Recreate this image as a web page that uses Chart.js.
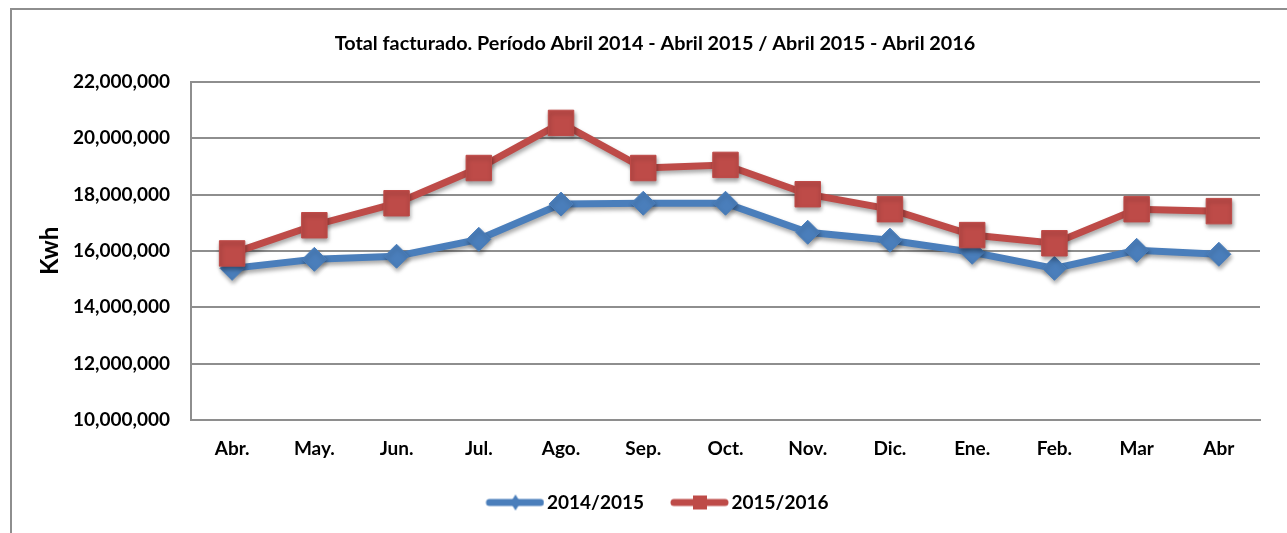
<!DOCTYPE html>
<html>
<head>
<meta charset="utf-8">
<script src="https://cdn.jsdelivr.net/npm/chart.js@4.4.0/dist/chart.umd.min.js"></script>
<style>
  body { margin: 0; background: #fff; overflow: hidden; }
  #frame { position: absolute; left: 10px; top: 8px; width: 1400px; height: 700px;
           border-top: 2px solid #8e8e8e; border-left: 2px solid #8e8e8e; }
  #chart { position: absolute; left: 0; top: 0; }
</style>
</head>
<body>
<div id="frame"></div>
<canvas id="chart" width="1287" height="533"></canvas>
<script>
var months = ["Abr.", "May.", "Jun.", "Jul.", "Ago.", "Sep.", "Oct.", "Nov.", "Dic.", "Ene.", "Feb.", "Mar", "Abr"];
var serie1415 = [15380000, 15700000, 15810000, 16410000, 17660000, 17690000, 17690000, 16660000, 16380000, 15950000, 15380000, 16020000, 15880000];
var serie1516 = [15910000, 16910000, 17690000, 18940000, 20540000, 18940000, 19050000, 18010000, 17480000, 16560000, 16270000, 17480000, 17410000];
var yMin = 10000000, yMax = 22000000, yStep = 2000000;

var blue = "#4A7EBB";
var red = "#BE4B48";
var grid = "#8e8e8e";
var font = "Lato";

// small line+marker swatch for the legend
function legendIcon(color, shape) {
  const c = document.createElement("canvas");
  c.width = 70; c.height = 18;
  const ctx = c.getContext("2d");
  ctx.strokeStyle = color;
  ctx.lineWidth = 7;
  ctx.lineCap = "round";
  ctx.beginPath();
  ctx.moveTo(15, 9); ctx.lineTo(66, 9);
  ctx.stroke();
  ctx.fillStyle = color;
  ctx.beginPath();
  if (shape == "rect") {
    ctx.rect(34, 2, 14, 14);
  } else {
    ctx.moveTo(41, 1); ctx.lineTo(46, 9); ctx.lineTo(41, 17); ctx.lineTo(36, 9); ctx.closePath();
  }
  ctx.fill();
  return c;
}

const shadow = {
  id: "shadow",
  beforeDatasetsDraw(chart) {
    const ctx = chart.ctx;
    ctx.save();
    ctx.shadowColor = "rgba(0,0,0,0.35)";
    ctx.shadowBlur = 4;
    ctx.shadowOffsetX = 1;
    ctx.shadowOffsetY = 3;
  },
  afterDatasetsDraw(chart) {
    chart.ctx.restore();
  }
};

new Chart(document.getElementById("chart").getContext("2d"), {
  type: "line",
  data: {
    labels: months,
    datasets: [{
      label: "2014/2015",
      data: serie1415,
      borderColor: blue,
      backgroundColor: blue,
      borderWidth: 7,
      pointStyle: "rectRot",
      pointRadius: 12,
      pointBorderWidth: 1,
      order: 1,
      tension: 0,
    }, {
      label: "2015/2016",
      data: serie1516,
      borderColor: red,
      backgroundColor: red,
      borderWidth: 7,
      pointStyle: "rect",
      pointRadius: 18,
      pointBorderWidth: 1,
      order: 0,
      tension: 0,
    }]
  },
  options: {
    responsive: false,
    devicePixelRatio: 1,
    animation: false,
    layout: { padding: { left: 50, right: 27, top: 0, bottom: 11 } },
    scales: {
      x: {
        offset: true,
        grid: { display: false, drawTicks: false },
        border: { display: true, color: grid, width: 2 },
        ticks: { color: "#000", padding: 17, font: { family: font, size: 19, weight: "bold" } },
        afterFit: s => { s.height = 51; },
      },
      y: {
        min: yMin,
        max: yMax,
        grid: { color: grid, lineWidth: 2, drawTicks: false },
        border: { display: true, color: grid, width: 2 },
        ticks: {
          stepSize: yStep,
          color: "#000",
          padding: 21,
          font: { family: font, size: 19, weight: "bold" },
          callback: v => v.toLocaleString("en-US"),
        },
        title: {
          display: true,
          text: "Kwh",
          color: "#000",
          padding: { top: -14, bottom: 0 },
          font: { family: font, size: 24, weight: "bold" },
        },
        afterFit: s => { s.width = 141; },
      }
    },
    plugins: {
      title: {
        display: true,
        text: "Total facturado. Período Abril 2014 - Abril 2015 / Abril 2015 - Abril 2016",
        color: "#000",
        padding: { top: 32, bottom: 26 },
        font: { family: font, size: 19.8, weight: "bold" },
      },
      legend: {
        position: "bottom",
        labels: {
          color: "#000",
          usePointStyle: true,
          pointStyleWidth: 56,
          padding: 22,
          font: { family: font, size: 19, weight: "bold" },
          sort: (a, b) => a.datasetIndex - b.datasetIndex,
          generateLabels: chart => chart.data.datasets.map((d, i) => ({
            text: d.label,
            datasetIndex: i,
            fontColor: "#000",
            pointStyle: legendIcon(d.borderColor, d.pointStyle == "rect" ? "rect" : "diamond"),
            lineWidth: 0,
            strokeStyle: d.borderColor,
            fillStyle: d.borderColor,
          })),
        }
      },
      tooltip: { enabled: false },
    }
  },
  plugins: [shadow],
});
</script>
</body>
</html>
